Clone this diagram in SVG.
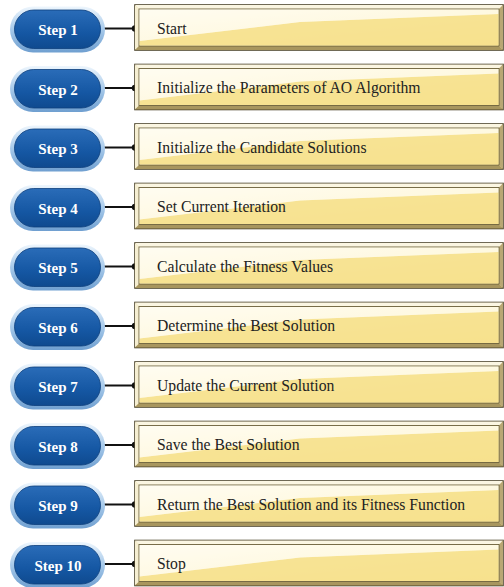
<svg xmlns="http://www.w3.org/2000/svg" xmlns:xlink="http://www.w3.org/1999/xlink" width="504" height="587" viewBox="0 0 504 587">
<style>
.lbl{font-family:"Liberation Serif","Times New Roman",serif;font-size:15.7px;fill:#222}
.stp{font-family:"Liberation Serif","Times New Roman",serif;font-size:15px;font-weight:bold;fill:#fff;text-anchor:middle}
.con line{stroke:#111;stroke-width:2}
.con circle{fill:#111}
</style>
<defs>
<linearGradient id="ring" x1="0" y1="0" x2="0" y2="1">
<stop offset="0" stop-color="#eef6fd"/><stop offset="0.5" stop-color="#a6c9ea"/><stop offset="1" stop-color="#6f9fd0"/>
</linearGradient>
<linearGradient id="pill" x1="0" y1="0" x2="0" y2="1">
<stop offset="0" stop-color="#2a6cb8"/><stop offset="0.6" stop-color="#1557a3"/><stop offset="1" stop-color="#0f4a8f"/>
</linearGradient>
<linearGradient id="inner" x1="0" y1="0" x2="1" y2="1">
<stop offset="0" stop-color="#fffef6"/><stop offset="1" stop-color="#fbeba8"/>
</linearGradient>
<g id="pillg">
<rect x="10" y="6.5" width="95" height="46" rx="23" fill="url(#ring)"/>
<rect x="14.5" y="10" width="86" height="38.5" rx="19.25" fill="url(#pill)" stroke="#0d3f7c" stroke-width="0.8"/>
</g>
<g id="boxg">
<rect x="135" y="5" width="368" height="45" fill="#efe2b0" stroke="#4d452c" stroke-width="1.6"/>
<polygon points="135,5 503,5 499,9 139,9" fill="#fbf6e2"/>
<polygon points="135,5 139,9 139,46 135,50" fill="#f6efd2"/>
<polygon points="503,5 503,50 499,46 499,9" fill="#b9a774"/>
<polygon points="135,50 139,46 499,46 503,50" fill="#a8965e"/>
<rect x="139" y="9" width="360" height="37" fill="url(#inner)" stroke="#6b5f3a" stroke-width="0.9"/>
<polygon points="139.5,45.5 139.5,41 300,22 498.5,14 498.5,45.5" fill="#f6df88" opacity="0.85"/>
<polygon points="139.5,9.5 498.5,9.5 498.5,14 300,22 139.5,41" fill="#fffcef" opacity="0.6"/>
</g>
</defs>
<g class="con" id="connectors">
<line x1="104" y1="28.5" x2="135" y2="28.5"/><circle cx="135" cy="28.5" r="3.2"/>
<line x1="104" y1="88" x2="135" y2="88"/><circle cx="135" cy="88" r="3.2"/>
<line x1="104" y1="147.5" x2="135" y2="147.5"/><circle cx="135" cy="147.5" r="3.2"/>
<line x1="104" y1="207" x2="135" y2="207"/><circle cx="135" cy="207" r="3.2"/>
<line x1="104" y1="266.5" x2="135" y2="266.5"/><circle cx="135" cy="266.5" r="3.2"/>
<line x1="104" y1="326" x2="135" y2="326"/><circle cx="135" cy="326" r="3.2"/>
<line x1="104" y1="385.5" x2="135" y2="385.5"/><circle cx="135" cy="385.5" r="3.2"/>
<line x1="104" y1="445" x2="135" y2="445"/><circle cx="135" cy="445" r="3.2"/>
<line x1="104" y1="504.5" x2="135" y2="504.5"/><circle cx="135" cy="504.5" r="3.2"/>
<line x1="104" y1="564" x2="135" y2="564"/><circle cx="135" cy="564" r="3.2"/>
</g>
<g id="step1"><use xlink:href="#pillg"/><text class="stp" x="58" y="35">Step 1</text></g>
<g id="box1"><use xlink:href="#boxg"/><text class="lbl" x="157" y="33.5">Start</text></g>
<g id="step2" transform="translate(0,59.5)"><use xlink:href="#pillg"/><text class="stp" x="58" y="35">Step 2</text></g>
<g id="box2" transform="translate(0,59.5)"><use xlink:href="#boxg"/><text class="lbl" x="157" y="33.5">Initialize the Parameters of AO Algorithm</text></g>
<g id="step3" transform="translate(0,119)"><use xlink:href="#pillg"/><text class="stp" x="58" y="35">Step 3</text></g>
<g id="box3" transform="translate(0,119)"><use xlink:href="#boxg"/><text class="lbl" x="157" y="33.5">Initialize the Candidate Solutions</text></g>
<g id="step4" transform="translate(0,178.5)"><use xlink:href="#pillg"/><text class="stp" x="58" y="35">Step 4</text></g>
<g id="box4" transform="translate(0,178.5)"><use xlink:href="#boxg"/><text class="lbl" x="157" y="33.5">Set Current Iteration</text></g>
<g id="step5" transform="translate(0,238)"><use xlink:href="#pillg"/><text class="stp" x="58" y="35">Step 5</text></g>
<g id="box5" transform="translate(0,238)"><use xlink:href="#boxg"/><text class="lbl" x="157" y="33.5">Calculate the Fitness Values</text></g>
<g id="step6" transform="translate(0,297.5)"><use xlink:href="#pillg"/><text class="stp" x="58" y="35">Step 6</text></g>
<g id="box6" transform="translate(0,297.5)"><use xlink:href="#boxg"/><text class="lbl" x="157" y="33.5">Determine the Best Solution</text></g>
<g id="step7" transform="translate(0,357)"><use xlink:href="#pillg"/><text class="stp" x="58" y="35">Step 7</text></g>
<g id="box7" transform="translate(0,357)"><use xlink:href="#boxg"/><text class="lbl" x="157" y="33.5">Update the Current Solution</text></g>
<g id="step8" transform="translate(0,416.5)"><use xlink:href="#pillg"/><text class="stp" x="58" y="35">Step 8</text></g>
<g id="box8" transform="translate(0,416.5)"><use xlink:href="#boxg"/><text class="lbl" x="157" y="33.5">Save the Best Solution</text></g>
<g id="step9" transform="translate(0,476)"><use xlink:href="#pillg"/><text class="stp" x="58" y="35">Step 9</text></g>
<g id="box9" transform="translate(0,476)"><use xlink:href="#boxg"/><text class="lbl" x="157" y="33.5">Return the Best Solution and its Fitness Function</text></g>
<g id="step10" transform="translate(0,535.5)"><use xlink:href="#pillg"/><text class="stp" x="58" y="35">Step 10</text></g>
<g id="box10" transform="translate(0,535.5)"><use xlink:href="#boxg"/><text class="lbl" x="157" y="33.5">Stop</text></g>
</svg>
